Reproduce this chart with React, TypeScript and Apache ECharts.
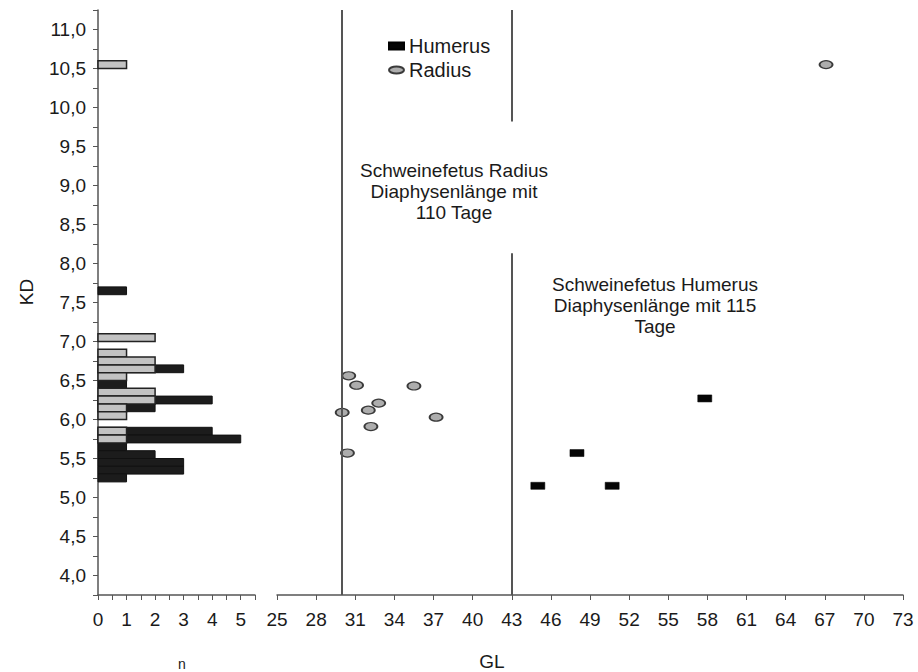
import React, { useEffect, useRef } from "react";
import * as echarts from "echarts";

// Histogram (left panel): bin lower bounds (KD) and counts (n)
const binWidth = 0.1;
const humerusBins = [7.6, 6.6, 6.4, 6.2, 6.1, 5.8, 5.7, 5.6, 5.5, 5.4, 5.3, 5.2];
const humerusCounts = [1, 3, 1, 4, 2, 4, 5, 1, 2, 3, 3, 1];
const radiusBins = [10.5, 7.0, 6.8, 6.7, 6.6, 6.5, 6.3, 6.2, 6.1, 6.0, 5.8, 5.7];
const radiusCounts = [1, 2, 1, 2, 2, 1, 2, 2, 1, 1, 1, 1];

// Scatter (right panel): GL vs KD
const radiusGL = [67.1, 30.5, 31.1, 35.5, 32.8, 32.0, 30.0, 37.2, 32.2, 30.4];
const radiusKD = [10.55, 6.56, 6.44, 6.43, 6.21, 6.12, 6.09, 6.03, 5.91, 5.57];
const humerusGL = [57.8, 48.0, 45.0, 50.7];
const humerusKD = [6.27, 5.57, 5.15, 5.15];

// Reference lines (GL of 110-day radius and 115-day humerus)
const radiusRefGL = 30;
const humerusRefGL = 43;
const humerusRefGapKD = [9.82, 8.13];

const kdMin = 3.75;
const kdMax = 11.25;

const FONT = '"Liberation Sans", Arial, sans-serif';
const TXT = "#1a1a1a";
const AX = "#555";

const radiusNote = "Schweinefetus Radius\nDiaphysenlänge mit\n110 Tage";
const humerusNote = "Schweinefetus Humerus\nDiaphysenlänge mit 115\nTage";

const ELLIPSE_ICON = "path://M0,4A7,4,0,1,0,14,4A7,4,0,1,0,0,4Z";

function histRender(fill: string, stroke: string, lw: number) {
  return (params: any, api: any) => {
    const p0 = api.coord([0, api.value(2)]);
    const p1 = api.coord([api.value(0), api.value(1)]);
    return {
      type: "rect",
      shape: { x: p0[0], y: p0[1], width: p1[0] - p0[0], height: p1[1] - p0[1] },
      style: { fill, stroke, lineWidth: lw },
    };
  };
}

export default function App() {
  const ref = useRef<HTMLDivElement>(null);
  useEffect(() => {
    if (!ref.current) return;
    const chart = echarts.init(ref.current, undefined, { renderer: "svg" });
    const axisCommon = {
      axisLine: { show: true, lineStyle: { color: AX, width: 1.5 } },
      axisTick: { show: true, length: 5, lineStyle: { color: AX, width: 1 } },
      splitLine: { show: false },
    };
    const option: any = {
      animation: false,
      backgroundColor: "#fff",
      textStyle: { fontFamily: FONT },
      legend: {
        orient: "vertical",
        left: 383,
        top: 31,
        data: [
          { name: "Humerus", icon: "rect" },
          { name: "Radius", icon: ELLIPSE_ICON },
        ],
        itemWidth: 15,
        itemHeight: 7,
        itemGap: 4,
        symbolKeepAspect: false,
        textStyle: { fontSize: 20, color: TXT, fontFamily: FONT },
      },
      grid: [
        { left: 98, right: 663, top: 10, bottom: 77 },
        { left: 277, right: 15, top: 10, bottom: 77 },
      ],
      xAxis: [
        {
          gridIndex: 0,
          type: "value",
          min: 0,
          max: 5.5,
          interval: 0.5,
          ...axisCommon,
          axisLabel: {
            formatter: (v: number) => (Math.abs(v - Math.round(v)) < 1e-6 ? String(Math.round(v)) : ""),
            fontSize: 19,
            color: TXT,
            margin: 15,
            showMaxLabel: true,
          },
        },
        {
          gridIndex: 1,
          type: "value",
          min: 25,
          max: 73,
          interval: 3,
          ...axisCommon,
          axisLabel: { fontSize: 19, color: TXT, margin: 15, showMinLabel: true, showMaxLabel: true },
        },
      ],
      yAxis: [
        {
          gridIndex: 0,
          type: "value",
          min: kdMin,
          max: kdMax,
          interval: 0.25,
          ...axisCommon,
          axisLabel: {
            formatter: (v: number) =>
              Math.abs(v * 2 - Math.round(v * 2)) < 1e-6 ? v.toFixed(1).replace(".", ",") : "",
            fontSize: 19,
            color: TXT,
            margin: 12,
          },
        },
        { gridIndex: 1, type: "value", min: kdMin, max: kdMax, show: false, splitLine: { show: false } },
      ],
      series: [
        {
          type: "custom",
          name: "Humerus n",
          xAxisIndex: 0,
          yAxisIndex: 0,
          z: 2,
          silent: true,
          data: humerusBins.map((b, i) => [humerusCounts[i], b, b + binWidth]),
          encode: { x: 0, y: [1, 2] },
          renderItem: histRender("#1c1c1c", "#111", 1),
        },
        {
          type: "custom",
          name: "Radius n",
          xAxisIndex: 0,
          yAxisIndex: 0,
          z: 3,
          silent: true,
          data: radiusBins.map((b, i) => [radiusCounts[i], b, b + binWidth]),
          encode: { x: 0, y: [1, 2] },
          renderItem: histRender("#c2c2c2", "#222", 1.5),
        },
        {
          type: "scatter",
          name: "Humerus",
          xAxisIndex: 1,
          yAxisIndex: 1,
          symbol: "rect",
          symbolSize: [14, 7],
          itemStyle: { color: "#050505", borderColor: "#000", borderWidth: 0.5, opacity: 1 },
          data: humerusGL.map((x, i) => [x, humerusKD[i]]),
        },
        {
          type: "scatter",
          name: "Radius",
          xAxisIndex: 1,
          yAxisIndex: 1,
          symbol: "circle",
          symbolSize: [13, 8],
          itemStyle: { color: "#adadad", borderColor: "#3a3a3a", borderWidth: 1.5, opacity: 1 },
          data: radiusGL.map((x, i) => [x, radiusKD[i]]),
          markLine: {
            silent: true,
            symbol: ["none", "none"],
            label: { show: false },
            lineStyle: { color: AX, width: 2, type: "solid" },
            data: [
              [{ coord: [radiusRefGL, kdMax] }, { coord: [radiusRefGL, kdMin] }],
              [{ coord: [humerusRefGL, kdMax] }, { coord: [humerusRefGL, humerusRefGapKD[0]] }],
              [{ coord: [humerusRefGL, humerusRefGapKD[1]] }, { coord: [humerusRefGL, kdMin] }],
            ],
          },
        },
      ],
      graphic: [
        {
          type: "text",
          x: 454,
          y: 160,
          style: { text: radiusNote, align: "center", verticalAlign: "top", fontSize: 19, lineHeight: 21, fontFamily: FONT, fill: TXT },
        },
        {
          type: "text",
          x: 655,
          y: 274,
          style: { text: humerusNote, align: "center", verticalAlign: "top", fontSize: 19, lineHeight: 21, fontFamily: FONT, fill: TXT },
        },
        {
          type: "text",
          x: 26,
          y: 292,
          rotation: Math.PI / 2,
          style: { text: "KD", align: "center", verticalAlign: "middle", fontSize: 19, fontFamily: FONT, fill: TXT },
        },
        {
          type: "text",
          x: 182,
          y: 664,
          style: { text: "n", align: "center", verticalAlign: "middle", fontSize: 14, fontFamily: FONT, fill: TXT },
        },
        {
          type: "text",
          x: 492,
          y: 661,
          style: { text: "GL", align: "center", verticalAlign: "middle", fontSize: 19, fontFamily: FONT, fill: TXT },
        },
      ],
    };
    chart.setOption(option);
    return () => chart.dispose();
  }, []);
  return (
    <div
      ref={ref}
      style={{ position: "fixed", left: 0, top: 0, width: 918, height: 672, background: "#fff" }}
    />
  );
}
